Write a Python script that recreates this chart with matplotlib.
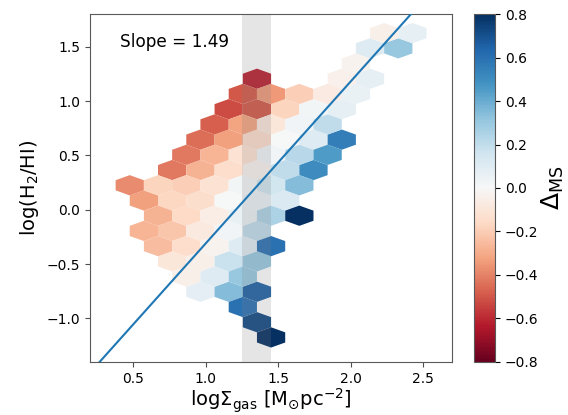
import numpy as np
import matplotlib
matplotlib.use("Agg")
import matplotlib.pyplot as plt

# ---- data: hex-cell centres (log Sigma_gas, log H2/HI) and mean Delta_MS ----
gas_x = [
    # row y=1.625
    2.231, 2.426,
    # row y=1.485
    2.1335, 2.3285,
    # row y=1.345
    2.036,
    # row y=1.205
    1.3535, 1.9385, 2.1335,
    # row y=1.065
    1.256, 1.451, 1.646, 1.841, 2.036,
    # row y=0.925
    1.1585, 1.3535, 1.5485, 1.7435, 1.9385,
    # row y=0.785
    1.061, 1.256, 1.451, 1.646, 1.841,
    # row y=0.645
    0.9635, 1.1585, 1.3535, 1.5485, 1.7435, 1.9385,
    # row y=0.505
    0.866, 1.061, 1.256, 1.451, 1.646, 1.841,
    # row y=0.365
    0.7685, 0.9635, 1.1585, 1.3535, 1.5485, 1.7435,
    # row y=0.225
    0.476, 0.671, 0.866, 1.061, 1.256, 1.451, 1.646,
    # row y=0.085
    0.5735, 0.7685, 0.9635, 1.1585, 1.3535, 1.5485,
    # row y=-0.055
    0.671, 0.866, 1.061, 1.256, 1.451, 1.646,
    # row y=-0.195
    0.5735, 0.7685, 0.9635, 1.1585, 1.3535,
    # row y=-0.335
    0.671, 0.866, 1.061, 1.256, 1.451,
    # row y=-0.475
    0.7685, 0.9635, 1.1585, 1.3535,
    # row y=-0.615
    0.866, 1.061, 1.256,
    # row y=-0.755
    0.9635, 1.1585, 1.3535,
    # row y=-0.895
    1.256,
    # row y=-1.035
    1.3535,
    # row y=-1.175
    1.451,
]
h2hi_y = (
    [1.625] * 2 + [1.485] * 2 + [1.345] * 1 + [1.205] * 3 + [1.065] * 5
    + [0.925] * 5 + [0.785] * 5 + [0.645] * 6 + [0.505] * 6 + [0.365] * 6
    + [0.225] * 7 + [0.085] * 6 + [-0.055] * 6 + [-0.195] * 5 + [-0.335] * 5
    + [-0.475] * 4 + [-0.615] * 3 + [-0.755] * 3 + [-0.895] * 1
    + [-1.035] * 1 + [-1.175] * 1
)
delta_ms = [
    -0.05, 0.07,
    0.10, 0.30,
    -0.03,
    -0.62, -0.04, 0.07,
    -0.50, -0.35, -0.20, -0.07, 0.05,
    -0.52, -0.50, -0.18, 0.02, 0.07,
    -0.48, -0.32, -0.10, 0.03, 0.20,
    -0.45, -0.33, -0.15, 0.00, 0.10, 0.55,
    -0.42, -0.27, -0.12, 0.03, 0.22, 0.45,
    -0.42, -0.28, -0.15, -0.03, 0.20, 0.50,
    -0.38, -0.18, -0.20, -0.12, 0.02, 0.15, 0.35,
    -0.33, -0.17, -0.14, 0.00, 0.05, 0.12,
    -0.28, -0.16, -0.06, 0.06, 0.25, 0.80,
    -0.27, -0.22, -0.08, 0.03, 0.20,
    -0.25, -0.15, -0.03, 0.10, 0.60,
    -0.10, -0.05, 0.18, 0.30,
    -0.05, 0.10, 0.30,
    0.08, 0.35, 0.65,
    0.60,
    0.72,
    0.80,
]

slope = 1.49
intercept = -1.80
band = (1.25, 1.45)
cbar_ticks = [-0.8, -0.6, -0.4, -0.2, 0.0, 0.2, 0.4, 0.6, 0.8]
xticks = [0.5, 1.0, 1.5, 2.0, 2.5]
yticks = [-1.0, -0.5, 0.0, 0.5, 1.0, 1.5]

# ---- figure ----
fig = plt.figure(figsize=(5.68, 4.15), dpi=100)
ax = fig.add_axes([0.158, 0.128, 0.638, 0.838])
cax = fig.add_axes([0.835, 0.128, 0.037, 0.838])

sx, sy = 0.195, 0.28
xmin = 1.3535 - 8 * sx
ymin = 1.205 - 10 * sy
hb = ax.hexbin(gas_x, h2hi_y, C=delta_ms, reduce_C_function=np.mean,
               gridsize=(16, 14),
               extent=(xmin, xmin + 16 * sx, ymin, ymin + 14 * sy),
               cmap='RdBu', vmin=-0.8, vmax=0.8, linewidths=0, edgecolors='none',
               zorder=1)

ax.axvspan(band[0], band[1], color='grey', alpha=0.2, lw=0, zorder=2)

ax.set_xlim(0.2, 2.7)
ax.set_ylim(-1.4, 1.8)
xl = np.array(ax.get_xlim())
ax.plot(xl, slope * xl + intercept, color='#1f77b4', lw=1.5, zorder=3)
ax.set_xlim(0.2, 2.7)
ax.set_ylim(-1.4, 1.8)

ax.text(0.083, 0.92, f'Slope = {slope:.2f}', transform=ax.transAxes,
        fontsize=12.2, va='center', ha='left')

ax.set_xticks(xticks)
ax.set_yticks(yticks)
ax.tick_params(labelsize=10, color='0.3')
for s in ax.spines.values():
    s.set_color('0.35')
ax.set_xlabel(r'log$\Sigma_{\rm gas}$ [M$_{\odot}$pc$^{-2}$]', fontsize=14,
              labelpad=1)
ax.set_ylabel(r'log(H$_2$/HI)', fontsize=14)

cb = fig.colorbar(hb, cax=cax, ticks=cbar_ticks)
cb.ax.tick_params(labelsize=10)
cb.set_label(r'$\Delta_{\rm MS}$', fontsize=18, labelpad=1)
cb.outline.set_edgecolor('0.35')

fig.savefig('out.png', dpi=100)
